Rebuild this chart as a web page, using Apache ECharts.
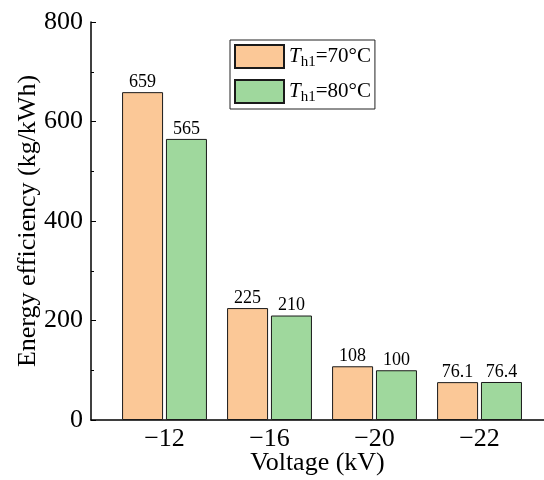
<!DOCTYPE html>
<html>
<head>
<meta charset="utf-8">
<script src="https://cdn.jsdelivr.net/npm/echarts@6/dist/echarts.min.js"></script>
<style>html,body{margin:0;padding:0;background:#fff}#c{width:544px;height:480px}</style>
</head>
<body>
<div id="c"></div>
<script>
const categories = ['\u221212', '\u221216', '\u221220', '\u221222'];
const seriesNames = ['T70', 'T80'];
const values70 = [659, 225, 108, 76.1];
const values80 = [565, 210, 100, 76.4];
const yTicks = [0, 200, 400, 600, 800];
const legendTemps = {T70: '70', T80: '80'};

const FONT = '"Times New Roman", "Liberation Serif", serif';
const positions = categories.map((c, i) => i + 1);

const chart = echarts.init(document.getElementById('c'), null, {renderer: 'canvas'});
const mk = (name, vals, color) => ({
  name: name,
  type: 'bar',
  data: vals.map((v, i) => [positions[i], v]),
  barWidth: 41,
  barGap: '7%',
  itemStyle: {color: color, borderColor: '#1a1a1a', borderWidth: 1},
  label: {show: true, position: 'top', distance: 1, color: '#000', fontFamily: FONT, fontSize: 18,
          formatter: p => String(p.value[1])},
  emphasis: {disabled: true}
});
chart.setOption({
  animation: false,
  grid: {left: 91, right: 0, top: 22, bottom: 60, outerBoundsMode: 'none', containLabel: false},
  legend: {
    left: 230, top: 40, orient: 'vertical',
    icon: 'rect',
    itemWidth: 49, itemHeight: 23, itemGap: 9,
    padding: [4, 4, 4, 4],
    borderColor: '#222', borderWidth: 1,
    data: seriesNames,
    formatter: n => '{i|T}{s|h1}{n|=' + legendTemps[n] + '\u00b0C}',
    textStyle: {
      fontFamily: FONT, fontSize: 21, color: '#000',
      rich: {
        i: {fontFamily: FONT, fontSize: 21, fontStyle: 'italic', color: '#000'},
        s: {fontFamily: FONT, fontSize: 15, color: '#000', verticalAlign: 'bottom', padding: [12, 0, 0, 0]},
        n: {fontFamily: FONT, fontSize: 21, color: '#000'}
      }
    }
  },
  xAxis: {
    type: 'value', min: 0.3, max: 4.614,
    name: 'Voltage (kV)', nameLocation: 'middle', nameGap: 30, nameMoveOverlap: false,
    nameTextStyle: {fontFamily: FONT, fontSize: 26, color: '#000'},
    axisLine: {show: true, lineStyle: {color: '#000', width: 1.5}},
    axisTick: {show: false},
    splitLine: {show: false},
    axisLabel: {
      customValues: positions, margin: 6,
      fontFamily: FONT, fontSize: 26, color: '#000',
      formatter: v => categories[Math.round(v) - 1] || ''
    }
  },
  yAxis: {
    type: 'value', min: yTicks[0], max: yTicks[yTicks.length - 1], interval: 200,
    name: 'Energy efficiency (kg/kWh)', nameLocation: 'middle', nameGap: 50, nameMoveOverlap: false,
    nameTextStyle: {fontFamily: FONT, fontSize: 26, color: '#000'},
    axisLine: {show: true, lineStyle: {color: '#000', width: 1.5}},
    axisTick: {show: true, inside: true, length: 5, lineStyle: {color: '#000', width: 1}},
    minorTick: {show: true, splitNumber: 2, length: 3, lineStyle: {color: '#000', width: 1}},
    splitLine: {show: false},
    axisLabel: {fontFamily: FONT, fontSize: 26, color: '#000', margin: 8}
  },
  series: [mk('T70', values70, '#fbc897'), mk('T80', values80, '#9fd89d')]
});
</script>
</body>
</html>
